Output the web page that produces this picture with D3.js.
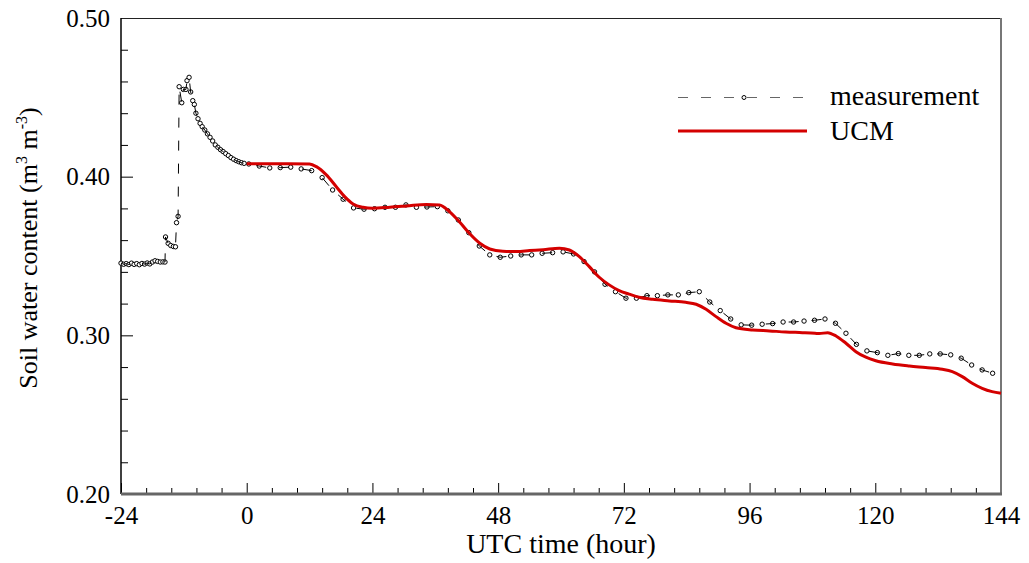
<!DOCTYPE html>
<html>
<head>
<meta charset="utf-8">
<script src="https://cdn.jsdelivr.net/npm/d3@7"></script>
<style>
  html, body { margin: 0; padding: 0; background: #fff; }
  svg { display: block; font-family: "Liberation Serif", "Times New Roman", serif; }
</style>
</head>
<body>
<svg id="chart" width="1029" height="563"></svg>
<script>
// Measured soil water content: hour (UTC) and value (m3 m-3)
const measTime = [
  -24, -23.5, -23, -22.5, -22, -21.5, -21, -20.5, -20, -19.5, -19, -18.5, -18, -17.5, -17, -16.5, -16, -15.6,
  -15.5, -15, -14.5, -14, -13.6, -13.4, -13.1, -12.9, -12.4, -12.1, -11.6, -11.4, -11, -10.7, -10.3,
  -10, -9.7, -9.3, -8.9, -8.5, -8, -7.5, -7, -6.5, -6, -5.5, -5, -4.5, -4, -3.5, -3, -2.5, -2, -1.5, -1, -0.5,
  0.4, 2.4, 4.4, 6.4, 8.4, 10.4, 12.4, 14.4, 16.4, 18.4, 20.4, 22.4, 24.4, 26.4, 28.4, 30.4, 32.4, 34.4, 36.4,
  38.4, 40.4, 42.4, 44.4, 46.4, 48.4, 50.4, 52.4, 54.4, 56.4, 58.4, 60.4, 62.4, 64.4, 66.4, 68.4, 70.4, 72.4,
  74.4, 76.4, 78.4, 80.4, 82.4, 84.4, 86.4, 88.4, 90.4, 92.4, 94.4, 96.4, 98.4, 100.4, 102.4, 104.4, 106.4, 108.4,
  110.4, 112.4, 114.4, 116.4, 118.4, 120.4, 122.4, 124.4, 126.4, 128.4, 130.4, 132.4, 134.4, 136.4, 138.4, 140.4, 142.4
];
const measValue = [
  0.3455, 0.3448, 0.3452, 0.3446, 0.3455, 0.3447, 0.3452, 0.3445, 0.3453, 0.3449, 0.3456, 0.3450, 0.3462, 0.3470, 0.3466, 0.3462, 0.3463, 0.3462,
  0.3620, 0.3580, 0.3566, 0.3560, 0.3558, 0.3710, 0.3750, 0.4567, 0.4466, 0.4550, 0.4550, 0.4605, 0.4626, 0.4534, 0.4479,
  0.4455, 0.4400, 0.4365, 0.4336, 0.4315, 0.4294, 0.4270, 0.4248, 0.4225, 0.4200, 0.4185, 0.4170, 0.4158, 0.4145, 0.4133, 0.4120, 0.4110, 0.4101, 0.4094, 0.4088, 0.4084,
  0.4080, 0.4067, 0.4055, 0.4057, 0.4060, 0.4049, 0.4038, 0.3994, 0.3916, 0.3858, 0.3803, 0.3795, 0.3798, 0.3807, 0.3807, 0.3822, 0.3807, 0.3809, 0.3811,
  0.3785, 0.3727, 0.3647, 0.3563, 0.3507, 0.3492, 0.3500, 0.3507, 0.3507, 0.3517, 0.3521, 0.3526, 0.3513, 0.3465, 0.3400, 0.3322, 0.3275, 0.3234,
  0.3234, 0.3250, 0.3250, 0.3255, 0.3255, 0.3269, 0.3275, 0.3210, 0.3156, 0.3103, 0.3066, 0.3064, 0.3070, 0.3074, 0.3084, 0.3084, 0.3090, 0.3095,
  0.3103, 0.3076, 0.3013, 0.2943, 0.2902, 0.2891, 0.2874, 0.2885, 0.2874, 0.2874, 0.2883, 0.2883, 0.2877, 0.2856, 0.2813, 0.2782, 0.2761
];

// UCM simulation: hour (UTC) and value (m3 m-3)
const ucmTime = [
  0, 4, 8, 12, 13.3, 15.2, 17.1, 18.7, 20.3, 22.2, 24, 27.3, 30.5, 34.3, 36.8, 38.7, 40.6, 42.5, 44.5, 46.4,
  48.9, 51.5, 54, 56.6, 59.7, 61.6, 63.5, 65.4, 67.3, 69.2, 71.1, 73, 74.9, 77.5, 80.7, 83.8, 85.8, 87.7, 89.6,
  91.5, 93.4, 96.6, 99.8, 102.9, 106.1, 108.5, 109.3, 110.9, 112.5, 114.4, 116.3, 118.2, 120.1, 123.3, 126.5,
  129.6, 132.8, 134.7, 136.6, 138.5, 140.4, 142.3, 144
];
const ucmValue = [
  0.4082, 0.4082, 0.4082, 0.4080, 0.4063, 0.4011, 0.3937, 0.3874, 0.3828, 0.3807, 0.3801, 0.3807, 0.3815, 0.3825, 0.3822, 0.3780, 0.3716, 0.3643, 0.3580, 0.3544,
  0.3530, 0.3528, 0.3534, 0.3540, 0.3549, 0.3538, 0.3496, 0.3433, 0.3366, 0.3318, 0.3282, 0.3260, 0.3240, 0.3227, 0.3217, 0.3208, 0.3196, 0.3164, 0.3118,
  0.3076, 0.3048, 0.3034, 0.3028, 0.3021, 0.3017, 0.3013, 0.3011, 0.3017, 0.2996, 0.2950, 0.2897, 0.2862, 0.2840, 0.2820, 0.2807,
  0.2797, 0.2786, 0.2771, 0.2740, 0.2698, 0.2666, 0.2645, 0.2635
];

// Axis ticks
const xMajorTicks = [-24, 0, 24, 48, 72, 96, 120, 144];
const xMinorTicks = [-19.2, -14.4, -9.6, -4.8, 4.8, 9.6, 14.4, 19.2, 28.8, 33.6, 38.4, 43.2, 52.8, 57.6, 62.4, 67.2,
  76.8, 81.6, 86.4, 91.2, 100.8, 105.6, 110.4, 115.2, 124.8, 129.6, 134.4, 139.2];
const yMajorTicks = [0.20, 0.30, 0.40, 0.50];
const yMinorTicks = [0.22, 0.24, 0.26, 0.28, 0.32, 0.34, 0.36, 0.38, 0.42, 0.44, 0.46, 0.48];

const seriesNames = ["measurement", "UCM"];

const svg = d3.select("#chart");
const plotLeft = 121, plotRight = 1001, plotTop = 18, plotBottom = 494;

const x = d3.scaleLinear().domain([-24, 144]).range([plotLeft, plotRight]);
const y = d3.scaleLinear().domain([0.20, 0.50]).range([plotBottom, plotTop]);

// Axes with inward ticks
const gx = svg.append("g").attr("transform", `translate(0,${plotBottom})`);
gx.call(d3.axisBottom(x).tickValues(xMajorTicks).tickSize(-11).tickPadding(12).tickFormat(d => String(d)));
const gxm = svg.append("g").attr("transform", `translate(0,${plotBottom})`);
gxm.call(d3.axisBottom(x).tickValues(xMinorTicks).tickSize(-6).tickFormat(""));

const gy = svg.append("g").attr("transform", `translate(${plotLeft},0)`);
gy.call(d3.axisLeft(y).tickValues(yMajorTicks).tickSize(-12).tickPadding(11).tickFormat(d3.format(".2f")));
const gym = svg.append("g").attr("transform", `translate(${plotLeft},0)`);
gym.call(d3.axisLeft(y).tickValues(yMinorTicks).tickSize(-7).tickFormat(""));

svg.selectAll(".domain").remove();
svg.selectAll(".tick line").attr("stroke", "#000").attr("stroke-width", 1);
svg.selectAll(".tick text").attr("fill", "#000").style("font-size", "25px")
  .style("font-family", "'Liberation Serif', 'Times New Roman', serif");

// Frame
svg.append("line").attr("x1", plotLeft).attr("x2", plotRight).attr("y1", plotTop + 0.5).attr("y2", plotTop + 0.5)
  .attr("stroke", "#222").attr("stroke-width", 1);
svg.append("line").attr("x1", plotRight).attr("x2", plotRight).attr("y1", plotTop).attr("y2", plotBottom)
  .attr("stroke", "#777").attr("stroke-width", 2);
svg.append("line").attr("x1", plotLeft).attr("x2", plotLeft).attr("y1", plotTop).attr("y2", plotBottom)
  .attr("stroke", "#000").attr("stroke-width", 1.5);
svg.append("line").attr("x1", plotLeft).attr("x2", plotRight + 1).attr("y1", plotBottom).attr("y2", plotBottom)
  .attr("stroke", "#666").attr("stroke-width", 3);

// Series
const meas = measTime.map((t, i) => [t, measValue[i]]);
const ucm = ucmTime.map((t, i) => [t, ucmValue[i]]);

const measLine = d3.line().x(d => x(d[0])).y(d => y(d[1]));
const ucmLine = d3.line().x(d => x(d[0])).y(d => y(d[1])).curve(d3.curveMonotoneX);

svg.append("g").selectAll("circle").data(meas).join("circle")
  .attr("cx", d => x(d[0])).attr("cy", d => y(d[1])).attr("r", 2.2)
  .attr("fill", "#fff").attr("stroke", "#000").attr("stroke-width", 1);

svg.append("path").datum(meas).attr("d", measLine)
  .attr("fill", "none").attr("stroke", "#000").attr("stroke-width", 1)
  .attr("stroke-dasharray", "10,13");

svg.append("path").datum(ucm).attr("d", ucmLine)
  .attr("fill", "none").attr("stroke", "#d40000").attr("stroke-width", 3);

// Legend
const lg = svg.append("g");
lg.append("line").attr("x1", 678).attr("x2", 807).attr("y1", 97.5).attr("y2", 97.5)
  .attr("stroke", "#666").attr("stroke-width", 1).attr("stroke-dasharray", "10,13");
lg.append("circle").attr("cx", 744).attr("cy", 97.5).attr("r", 2)
  .attr("fill", "#fff").attr("stroke", "#000").attr("stroke-width", 1);
lg.append("line").attr("x1", 678).attr("x2", 807).attr("y1", 131).attr("y2", 131)
  .attr("stroke", "#d40000").attr("stroke-width", 3);
lg.append("text").attr("x", 830).attr("y", 105).text(seriesNames[0])
  .style("font-size", "28px").attr("fill", "#000");
lg.append("text").attr("x", 830).attr("y", 140).text(seriesNames[1])
  .style("font-size", "28px").attr("fill", "#000");

// Axis titles
svg.append("text").attr("x", 561).attr("y", 553).attr("text-anchor", "middle")
  .style("font-size", "28px").attr("fill", "#000").text("UTC time (hour)");

const yt = svg.append("text").attr("transform", "translate(37,248) rotate(-90)")
  .attr("text-anchor", "middle").style("font-size", "26px").attr("fill", "#000");
yt.append("tspan").text("Soil water content (m");
yt.append("tspan").attr("dy", -10).style("font-size", "16px").text("3");
yt.append("tspan").attr("dy", 10).text(" m");
yt.append("tspan").attr("dy", -10).style("font-size", "16px").text("-3");
yt.append("tspan").attr("dy", 10).text(")");
</script>
</body>
</html>
